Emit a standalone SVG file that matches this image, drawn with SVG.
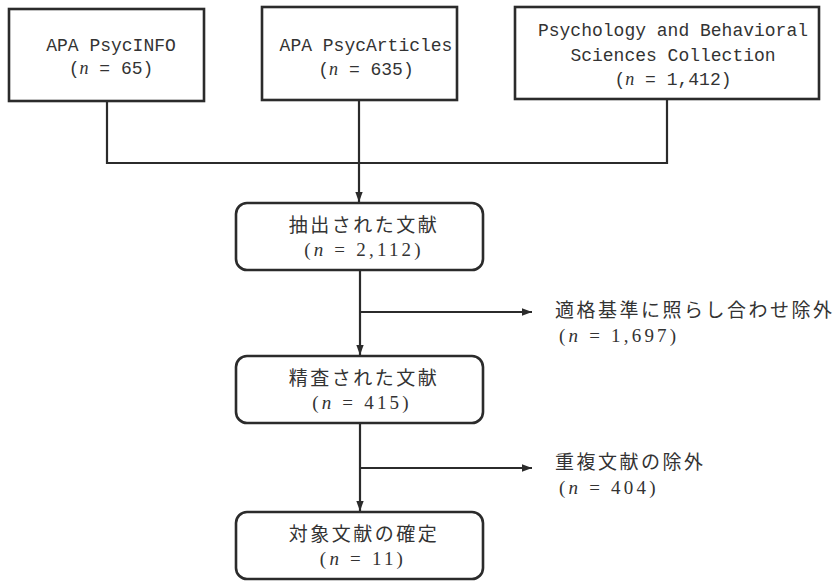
<svg xmlns="http://www.w3.org/2000/svg" width="839" height="582" viewBox="0 0 839 582">
<defs>
<style>
.box{fill:#fff;stroke:#2b2b2b;stroke-width:2.6}
.ln{fill:none;stroke:#2b2b2b;stroke-width:2.2}
.mono{font-family:"Liberation Mono","DejaVu Sans Mono",monospace;font-size:18px;fill:#333;text-anchor:middle}
.jp{font-family:"Liberation Serif","Noto Sans CJK JP",serif;font-size:19px;fill:#333;letter-spacing:2.5px}
.num{font-family:"Liberation Serif",serif;font-size:19px;fill:#333;letter-spacing:3.2px}
.mid{text-anchor:middle}
.it{font-family:"Liberation Serif",serif;font-style:italic}
</style>
<marker id="ah" markerUnits="userSpaceOnUse" markerWidth="10" markerHeight="10" viewBox="0 0 10 10" refX="10" refY="5" orient="auto">
<path d="M0,1.3 L10,5 L0,8.7 Z" fill="#2b2b2b"/>
</marker>
</defs>
<rect width="839" height="582" fill="#fff"/>
<g id="connectors">
<path class="ln" d="M107,101 V163 H667 V99"/>
<path class="ln" d="M359,100 V202" marker-end="url(#ah)"/>
<path class="ln" d="M360,270 V355" marker-end="url(#ah)"/>
<path class="ln" d="M360,312 H532" marker-end="url(#ah)"/>
<path class="ln" d="M360,423 V511" marker-end="url(#ah)"/>
<path class="ln" d="M360,468 H532" marker-end="url(#ah)"/>
</g>
<g id="n1">
<rect class="box" x="9" y="9" width="195" height="92"/>
<text class="mono" x="111" y="51">APA PsycINFO</text>
<text class="mono" x="111" y="74">(<tspan class="it">n</tspan> = 65)</text>
</g>
<g id="n2">
<rect class="box" x="262" y="7" width="195" height="93"/>
<text class="mono" x="366" y="51">APA PsycArticles</text>
<text class="mono" x="366" y="75">(<tspan class="it">n</tspan> = 635)</text>
</g>
<g id="n3">
<rect class="box" x="515" y="7" width="304" height="92"/>
<text class="mono" x="673" y="36">Psychology and Behavioral</text>
<text class="mono" x="673" y="61">Sciences Collection</text>
<text class="mono" x="673" y="85">(<tspan class="it">n</tspan> = 1,412)</text>
</g>
<g id="n4">
<rect class="box" x="236" y="203" width="247" height="67" rx="11"/>
<text class="jp mid" x="364" y="232">抽出された文献</text>
<text class="num mid" x="364" y="256">(<tspan class="it">n</tspan> = 2,112)</text>
</g>
<g id="n5">
<rect class="box" x="236" y="356" width="247" height="67" rx="11"/>
<text class="jp mid" x="364" y="385">精査された文献</text>
<text class="num mid" x="362" y="409">(<tspan class="it">n</tspan> = 415)</text>
</g>
<g id="n6">
<rect class="box" x="236" y="512" width="247" height="67" rx="11"/>
<text class="jp mid" x="364" y="541">対象文献の確定</text>
<text class="num mid" x="363" y="565">(<tspan class="it">n</tspan> = 11)</text>
</g>
<g id="n7">
<text class="jp" x="555" y="317">適格基準に照らし合わせ除外</text>
<text class="num" x="559" y="342">(<tspan class="it">n</tspan> = 1,697)</text>
</g>
<g id="n8">
<text class="jp" x="555" y="469">重複文献の除外</text>
<text class="num" x="559" y="494">(<tspan class="it">n</tspan> = 404)</text>
</g>
</svg>
